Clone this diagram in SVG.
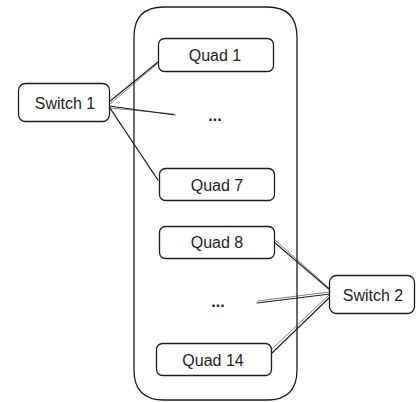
<svg xmlns="http://www.w3.org/2000/svg" width="416" height="402" viewBox="0 0 416 402">
  <style>
    .box { fill: #ffffff; stroke: #1e1e1e; stroke-width: 1.3; }
    .frame { fill: none; stroke: #1e1e1e; stroke-width: 1.3; }
    .label { font-family: "Liberation Sans", "DejaVu Sans", sans-serif; font-size: 16px; fill: #1e1e1e; text-anchor: middle; dominant-baseline: central; }
    .dots { font-weight: bold; }
    .link { fill: none; stroke: #1e1e1e; stroke-width: 1.1; stroke-linecap: round; }
    .link2 { fill: none; stroke: #1e1e1e; stroke-width: 0.7; stroke-linecap: round; opacity: 0.8; }
  </style>
  <rect width="416" height="402" fill="#ffffff"/>

  <!-- enclosing rack -->
  <g id="rack">
    <path class="frame" d="M164,7 L267,7 Q297,7 297,37 L297,370 Q297,400 267,400 L164,400 Q134,400 134,370 L134,37 Q134,7 164,7 Z"/>
  </g>

  <!-- links -->
  <g id="connectors">
    <path class="link" d="M109,102 L158,62"/>
    <path class="link2" d="M110,104 L157,64"/>
    <path class="link" d="M109,106 L175,115"/>
    <path class="link2" d="M110,108 L174,114"/>
    <path class="link" d="M110,108 L158,180"/>
    <path class="link2" d="M111,110 L157,179"/>
    <path class="link" d="M274,242 L330,290"/>
    <path class="link2" d="M275,240 L329,288"/>
    <path class="link" d="M257,303 L330,294"/>
    <path class="link2" d="M258,301 L329,292"/>
    <path class="link" d="M272,353 L330,297"/>
    <path class="link2" d="M270,351 L329,295"/>
  </g>

  <g id="switch1">
    <rect class="box" x="18.5" y="83.5" width="91" height="38" rx="7"/>
    <text class="label" x="65" y="103">Switch 1</text>
  </g>
  <g id="switch2">
    <rect class="box" x="329.5" y="275.5" width="85" height="38" rx="7"/>
    <text class="label" x="373" y="295">Switch 2</text>
  </g>

  <g id="quad1">
    <rect class="box" x="158.5" y="38.5" width="115" height="33" rx="6"/>
    <text class="label" x="215" y="55">Quad 1</text>
  </g>
  <g id="dots-top">
    <text class="label dots" x="215" y="115">...</text>
  </g>
  <g id="quad7">
    <rect class="box" x="159.5" y="168.5" width="115" height="32" rx="6"/>
    <text class="label" x="217" y="185">Quad 7</text>
  </g>
  <g id="quad8">
    <rect class="box" x="159.5" y="226.5" width="115" height="32" rx="6"/>
    <text class="label" x="217" y="242">Quad 8</text>
  </g>
  <g id="dots-bottom">
    <text class="label dots" x="218" y="301">...</text>
  </g>
  <g id="quad14">
    <rect class="box" x="156.5" y="343.5" width="115" height="32" rx="6"/>
    <text class="label" x="213" y="360">Quad 14</text>
  </g>
</svg>
